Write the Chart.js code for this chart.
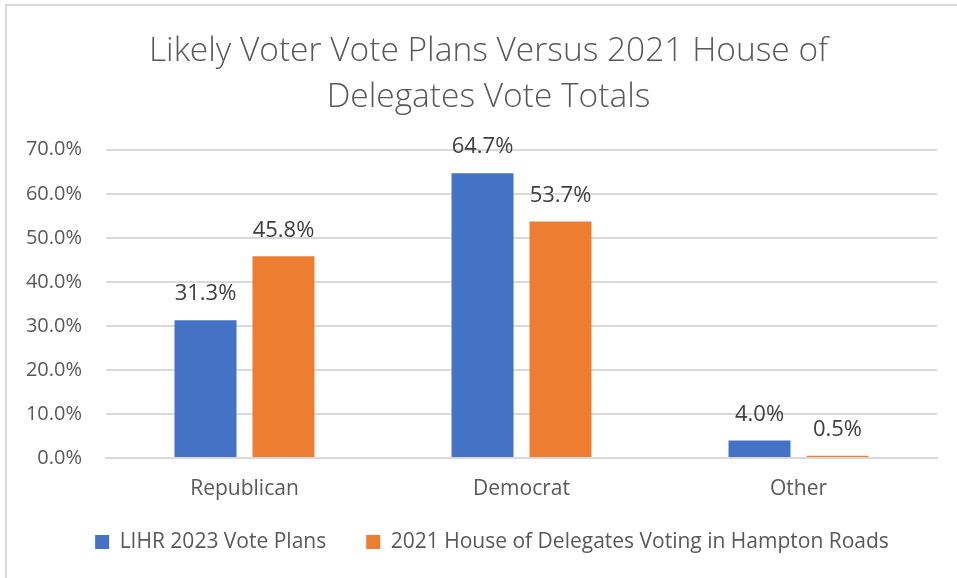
<!DOCTYPE html>
<html>
<head>
<meta charset="utf-8">
<script src="https://cdn.jsdelivr.net/npm/chart.js@4.4.0/dist/chart.umd.min.js"></script>
<style>
  html, body { margin: 0; padding: 0; background: #ffffff; }
  #wrap { position: relative; width: 957px; height: 578px; }
</style>
</head>
<body>
<div id="wrap"><canvas id="chart" width="957" height="578"></canvas></div>
<script>
// Party categories and the two compared series (percent of vote)
const categories = ['Republican', 'Democrat', 'Other'];
const votePlans2023 = [31.3, 64.7, 4.0];
const hodVoting2021 = [45.8, 53.7, 0.5];
const seriesNames = ['LIHR 2023 Vote Plans', '2021 House of Delegates Voting in Hampton Roads'];
const titleLines = ['Likely Voter Vote Plans Versus 2021 House of', 'Delegates Vote Totals'];

const TEXT = '#595959';
const GRID = '#d9d9d9';
const FONT = "'Open Sans', 'Noto Sans', sans-serif";

// Thin frame along the top and left edge of the chart block
const framePlugin = {
  id: 'frame',
  beforeDraw(chart) {
    const ctx = chart.ctx;
    ctx.save();
    ctx.fillStyle = '#ffffff';
    ctx.fillRect(0, 0, chart.width, chart.height);
    ctx.strokeStyle = '#d9d9d9';
    ctx.lineWidth = 2;
    ctx.beginPath();
    ctx.moveTo(6, chart.height);
    ctx.lineTo(6, 5);
    ctx.lineTo(chart.width, 5);
    ctx.stroke();
    ctx.restore();
  }
};

// Centre the title over the full width and nudge the legend block
const blockPlacement = {
  id: 'blockPlacement',
  afterLayout(chart) {
    const tb = chart.titleBlock;
    if (tb) {
      tb.left = 20;
      tb.right = chart.width;
      tb.width = tb.right - tb.left;
    }
    const lg = chart.legend;
    if (lg) {
      const h = lg.height;
      lg.top = 491.5;
      lg.bottom = lg.top + h;
      lg.left = 47;
      lg.width = lg.right - lg.left;
    }
  }
};

// Value labels above each bar
const valueLabels = {
  id: 'valueLabels',
  afterDatasetsDraw(chart) {
    const ctx = chart.ctx;
    ctx.save();
    ctx.font = "22px " + FONT;
    ctx.fillStyle = '#404040';
    ctx.textAlign = 'center';
    ctx.textBaseline = 'middle';
    chart.data.datasets.forEach((ds, di) => {
      chart.getDatasetMeta(di).data.forEach((bar, i) => {
        ctx.fillText(ds.data[i].toFixed(1) + '%', bar.x, bar.y - 26);
      });
    });
    ctx.restore();
  }
};

new Chart(document.getElementById('chart'), {
  type: 'bar',
  data: {
    labels: categories,
    datasets: [
      { label: seriesNames[0], data: votePlans2023, backgroundColor: '#4472C4' },
      { label: seriesNames[1], data: hodVoting2021, backgroundColor: '#ED7D31' }
    ]
  },
  options: {
    responsive: false,
    animation: false,
    devicePixelRatio: 1,
    categoryPercentage: 0.563,
    barPercentage: 0.795,
    layout: { padding: { left: 0, right: 20, top: 0, bottom: 6 } },
    plugins: {
      title: {
        display: true,
        text: titleLines,
        color: TEXT,
        font: { family: FONT, size: 33.5, weight: '300', lineHeight: 1.37 },
        padding: { top: 29, bottom: 29 }
      },
      legend: {
        position: 'bottom',
        labels: {
          color: TEXT,
          font: { family: FONT, size: 21 },
          boxWidth: 14,
          boxHeight: 14,
          padding: 40
        }
      },
      tooltip: { enabled: false }
    },
    scales: {
      x: {
        grid: { display: false, drawTicks: false },
        border: { color: GRID, width: 2 },
        ticks: { color: TEXT, font: { family: FONT, size: 21 }, padding: 18 },
        afterFit(scale) { scale.height = 43; }
      },
      y: {
        min: 0,
        max: 70,
        grid: { color: GRID, lineWidth: 2, drawTicks: false },
        border: { display: false },
        ticks: {
          stepSize: 10,
          color: TEXT,
          font: { family: FONT, size: 20 },
          padding: 24,
          callback: v => v.toFixed(1) + '%'
        },
        afterFit(scale) { scale.width = 106; }
      }
    }
  },
  plugins: [framePlugin, blockPlacement, valueLabels]
});
</script>
</body>
</html>
